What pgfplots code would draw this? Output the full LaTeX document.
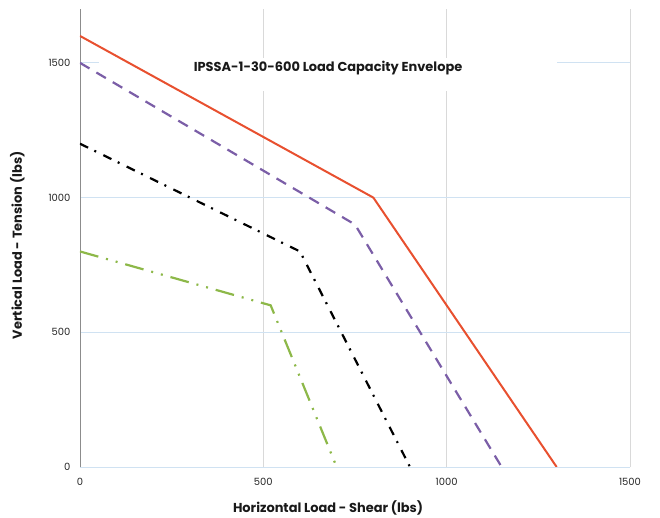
\documentclass[border=0pt]{standalone}
\usepackage{fontspec}
\setmainfont{Poppins}
\usepackage{pgfplots}
\pgfplotsset{compat=1.18}

\definecolor{envred}{HTML}{E8502F}
\definecolor{envpurple}{HTML}{7B5EA7}
\definecolor{envgreen}{HTML}{8DB849}
\definecolor{gridgray}{HTML}{D9D9D9}
\definecolor{gridblue}{HTML}{D0E2F2}
\definecolor{axisgray}{HTML}{8C8C8C}

\begin{document}
\begin{tikzpicture}
\path[use as bounding box] (-80bp,-51bp) rectangle (580bp,467bp);
\begin{axis}[
    scale only axis,
    width=550bp, height=458bp,
    xmin=0, xmax=1500, ymin=0, ymax=1700,
    axis x line=bottom, axis y line=left,
    axis line style={-},
    x axis line style={draw=gridblue, line width=0.8bp},
    y axis line style={draw=axisgray, line width=0.8bp},
    xtick={0,500,1000,1500}, ytick={0,500,1000,1500},
    major tick length=0pt,
    grid=major,
    major x grid style={draw=gridgray, line width=0.8bp},
    major y grid style={draw=gridblue, line width=0.8bp},
    tick label style={font=\fontsize{10}{12}\selectfont, text=black!85},
    /pgf/number format/assume math mode=true,
    /pgf/number format/1000 sep={},
    xticklabel style={yshift=-8bp},
    yticklabel style={xshift=-6bp},
    label style={font=\bfseries\fontsize{13}{15}\selectfont, text=black!90},
    xlabel={Horizontal Load - Shear (lbs)},
    ylabel={Vertical Load - Tension (lbs)},
    xlabel style={at={(rel axis cs:0.451,0)}, anchor=north, yshift=-30bp},
    ylabel style={at={(rel axis cs:0,0.484)}, anchor=south, yshift=52bp},
]
% white title box over the grid
\fill[white] (rel axis cs:0.035,0.820) rectangle (rel axis cs:0.868,0.893);
\node[font=\bfseries\fontsize{13}{15}\selectfont, text=black!90]
    at (rel axis cs:0.451,0.871) {IPSSA-1-30-600 Load Capacity Envelope};

\addplot[envred, line width=2bp] coordinates {
    (0,1600) (800,1000) (1300,0)
};
\addplot[envpurple, line width=2.2bp, dash pattern=on 11bp off 8bp] coordinates {
    (0,1500) (750,900) (1150,0)
};
\addplot[black, line width=2.2bp, dash pattern=on 9bp off 7bp on 2bp off 8bp] coordinates {
    (0,1200) (600,800) (900,0)
};
\addplot[envgreen, line width=2.2bp, dash pattern=on 19bp off 8bp on 2bp off 8bp on 2bp off 8bp] coordinates {
    (0,800) (520,600) (700,0)
};
\end{axis}
\end{tikzpicture}
\end{document}
